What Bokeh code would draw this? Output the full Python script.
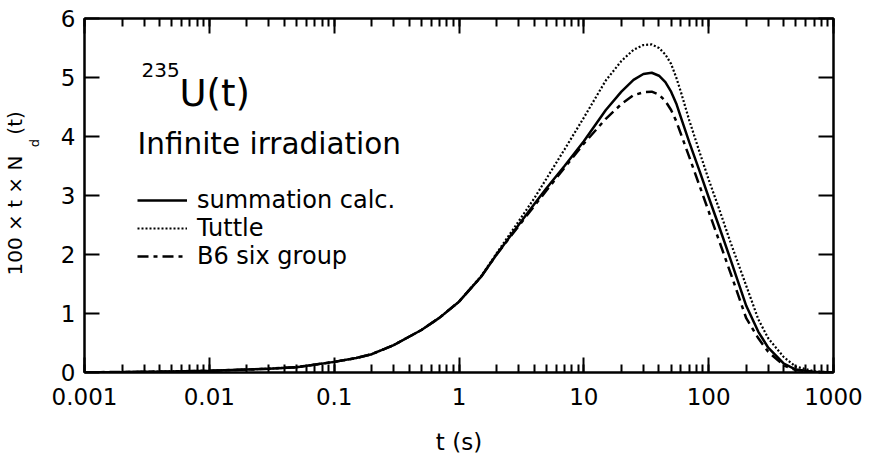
from bokeh.plotting import figure
from bokeh.models import (Range1d, LogAxis, LinearAxis, LogTicker, FixedTicker,
                          Label, Legend, LegendItem, NumeralTickFormatter,
                          CustomJSTickFormatter)
from bokeh.embed import file_html
from bokeh.resources import INLINE

# ---- data ----
t = [0.001, 0.002, 0.005, 0.01, 0.02, 0.03, 0.05, 0.1, 0.15, 0.2, 0.3, 0.5,
     0.7, 1, 1.5, 2, 3, 4, 5, 7, 10, 15, 20, 25, 30, 35, 40, 45, 50, 55, 60,
     70, 85, 100, 120, 150, 200, 250, 300, 400, 500, 700, 1000]
summation = [0.005, 0.008, 0.018, 0.03, 0.05, 0.065, 0.09, 0.18, 0.245, 0.31,
             0.465, 0.72, 0.93, 1.20, 1.62, 2.00, 2.50, 2.85, 3.12, 3.50,
             3.92, 4.45, 4.76, 4.96, 5.06, 5.08, 5.03, 4.92, 4.76, 4.56, 4.32,
             3.90, 3.40, 2.97, 2.50, 1.91, 1.13, 0.69, 0.42, 0.15, 0.05, 0.01,
             0.0]
tuttle = [0.005, 0.008, 0.018, 0.03, 0.05, 0.065, 0.09, 0.18, 0.245, 0.31,
          0.465, 0.72, 0.93, 1.20, 1.63, 2.02, 2.56, 2.95, 3.28, 3.78,
          4.32, 4.95, 5.28, 5.47, 5.55, 5.56, 5.50, 5.39, 5.23, 5.00, 4.75,
          4.27, 3.72, 3.27, 2.80, 2.20, 1.47, 0.90, 0.58, 0.26, 0.10, 0.02,
          0.0]
b6 = [0.005, 0.008, 0.018, 0.03, 0.05, 0.065, 0.09, 0.18, 0.245, 0.31,
      0.465, 0.72, 0.93, 1.20, 1.62, 2.00, 2.48, 2.82, 3.08, 3.47,
      3.88, 4.30, 4.55, 4.70, 4.75, 4.76, 4.71, 4.60, 4.45, 4.26, 4.04,
      3.65, 3.15, 2.73, 2.26, 1.68, 0.92, 0.58, 0.35, 0.12, 0.04, 0.01,
      0.0]
y_ticks = [0, 1, 2, 3, 4, 5, 6]
series_labels = ["summation calc.", "Tuttle", "B6 six group"]
y_title_parts = ["100 × t × N", "d", "(t)"]

FONT = "DejaVu Sans"

p = figure(width=871, height=463, x_axis_type="log",
           x_range=Range1d(0.001, 1000), y_range=Range1d(0, 6),
           output_backend="svg", toolbar_location=None,
           min_border_left=84, min_border_right=38, min_border_top=18,
           min_border_bottom=91)
p.grid.visible = False
p.outline_line_color = "black"
p.outline_line_width = 2
p.background_fill_color = "white"
p.border_fill_color = "white"

def style_axis(ax, labels=True):
    ax.axis_line_width = 2
    ax.major_tick_line_width = 2
    ax.minor_tick_line_width = 2
    ax.major_tick_in = 15
    ax.major_tick_out = 0
    ax.minor_tick_in = 8
    ax.minor_tick_out = 0
    if labels:
        ax.major_label_text_font = FONT
        ax.major_label_text_font_size = "23px"
        ax.major_label_text_color = "black"
    else:
        ax.formatter = CustomJSTickFormatter(code="return ''")
        ax.major_label_text_font_size = "1px"
        ax.major_label_standoff = 0

# bottom axis
xa = p.xaxis[0]
xa.ticker = LogTicker(num_minor_ticks=10)
xa.formatter = NumeralTickFormatter(format="0.[000]")
style_axis(xa)
xa.major_label_standoff = 15
xa.axis_label = "t (s)"
xa.axis_label_text_font = FONT
xa.axis_label_text_font_size = "23px"
xa.axis_label_text_font_style = "normal"
xa.axis_label_text_color = "black"
xa.axis_label_standoff = 21

# left axis
ya = p.yaxis[0]
ya.ticker = FixedTicker(ticks=y_ticks)
style_axis(ya)
ya.minor_tick_line_color = None
ya.major_label_standoff = 9

# top axis
top = LogAxis(ticker=LogTicker(num_minor_ticks=10))
style_axis(top, labels=False)
p.add_layout(top, "above")

# right axis
right = LinearAxis(ticker=FixedTicker(ticks=y_ticks))
style_axis(right, labels=False)
right.minor_tick_line_color = None
p.add_layout(right, "right")

# y-axis title (with subscript) drawn as rotated labels of two helper axes
# (positions along the axis, in y units, for where each piece sits)
pos_main, pos_sub, pos_paren = 2.66, 3.89, 4.23

def title_axis(ticks, texts, size, standoff):
    ax = LinearAxis(ticker=FixedTicker(ticks=ticks),
                    major_label_overrides={k: v for k, v in zip(ticks, texts)},
                    major_label_orientation="vertical",
                    axis_line_color=None, major_tick_line_color=None,
                    minor_tick_line_color=None,
                    major_tick_in=0, major_tick_out=0,
                    major_label_standoff=standoff,
                    major_label_text_font=FONT,
                    major_label_text_font_size=size,
                    major_label_text_color="black")
    p.add_layout(ax, "left")
    return ax

title_axis([pos_sub], [y_title_parts[1]], "13px", 15)
title_axis([pos_main, pos_paren], [y_title_parts[0], y_title_parts[2]],
           "20px", -3)

r1 = p.line(t, summation, line_color="black", line_width=2.5)
r2 = p.line(t, tuttle, line_color="black", line_width=2.2, line_dash="2 2")
r3 = p.line(t, b6, line_color="black", line_width=2.5, line_dash="11 5 4 5")

legend = Legend(items=[LegendItem(label=series_labels[0], renderers=[r1]),
                       LegendItem(label=series_labels[1], renderers=[r2]),
                       LegendItem(label=series_labels[2], renderers=[r3])],
                location=(53, 102), orientation="vertical",
                border_line_color=None, background_fill_alpha=0,
                label_text_font=FONT, label_text_font_size="24px",
                label_text_color="black",
                glyph_width=50, glyph_height=28, label_height=28,
                label_standoff=10, spacing=0, padding=0, margin=0)
p.add_layout(legend)

# in-plot titles
p.add_layout(Label(x=57, y=303, x_units="screen", y_units="screen", text="235",
                   text_baseline="alphabetic",
                   text_font=FONT, text_font_size="20px", text_color="black"))
p.add_layout(Label(x=95, y=279, x_units="screen", y_units="screen", text="U(t)",
                   text_baseline="alphabetic",
                   text_font=FONT, text_font_size="37px", text_color="black"))
p.add_layout(Label(x=53, y=229, x_units="screen", y_units="screen",
                   text="Infinite irradiation", text_baseline="alphabetic",
                   text_font=FONT, text_font_size="29.5px", text_color="black"))

open("out.html", "w").write(file_html(p, INLINE))
